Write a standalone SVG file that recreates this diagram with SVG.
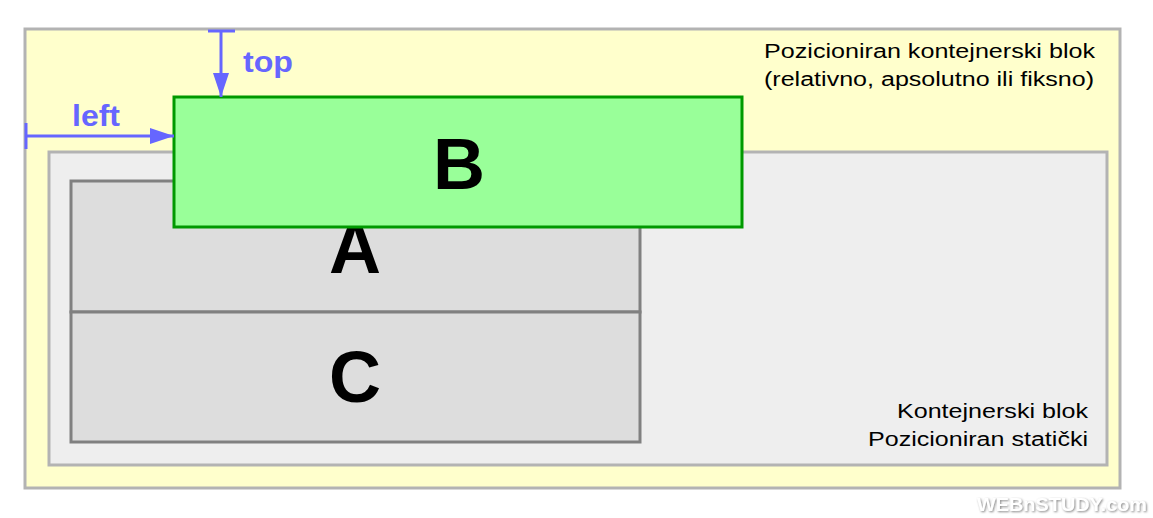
<svg xmlns="http://www.w3.org/2000/svg" width="1153" height="518" viewBox="0 0 1153 518">
<defs>
<style>
.lbl{font-family:"Liberation Sans",Arial,sans-serif;font-size:20px;fill:#000}
.big{font-family:"Liberation Sans",Arial,sans-serif;font-size:72px;font-weight:bold;fill:#000;text-anchor:middle}
.dim{font-family:"Liberation Sans",Arial,sans-serif;font-size:29px;font-weight:bold;fill:#6666ff}
.arr{stroke:#6666ff;stroke-width:3;fill:none}
</style>
<marker id="ah" viewBox="0 0 24 16" refX="24" refY="8" markerWidth="24" markerHeight="16" markerUnits="userSpaceOnUse" orient="auto">
<path d="M0,0 L24,8 L0,16 Z" fill="#6666ff"/>
</marker>
<filter id="sh" x="-5%" y="-30%" width="110%" height="160%">
<feDropShadow dx="1" dy="1" stdDeviation="1.2" flood-color="#888888" flood-opacity="1"/>
</filter>
</defs>
<rect width="1153" height="518" fill="#ffffff"/>
<g id="positioned-container">
<rect x="25" y="29" width="1095" height="459" fill="#ffffcc" stroke="#b3b3b3" stroke-width="3"/>
<text class="lbl" x="764" y="58" textLength="331" lengthAdjust="spacingAndGlyphs">Pozicioniran kontejnerski blok</text>
<text class="lbl" x="764" y="86" textLength="330" lengthAdjust="spacingAndGlyphs">(relativno, apsolutno ili fiksno)</text>
</g>
<g id="static-container">
<rect x="49" y="152" width="1058" height="313" fill="#eeeeee" stroke="#b3b3b3" stroke-width="3"/>
<text class="lbl" x="897" y="418" textLength="191" lengthAdjust="spacingAndGlyphs">Kontejnerski blok</text>
<text class="lbl" x="868" y="446" textLength="220" lengthAdjust="spacingAndGlyphs">Pozicioniran statički</text>
</g>
<g id="A">
<rect x="71" y="181" width="569" height="131" fill="#dddddd" stroke="#808080" stroke-width="3"/>
<text class="big" x="355" y="273">A</text>
</g>
<g id="C">
<rect x="71" y="312" width="569" height="130" fill="#dddddd" stroke="#808080" stroke-width="3"/>
<text class="big" x="355" y="402">C</text>
</g>
<g id="B">
<rect x="174" y="97" width="568" height="130" fill="#99ff99" stroke="#009900" stroke-width="3"/>
<text class="big" x="459" y="189">B</text>
</g>
<g id="connectors">
<line class="arr" x1="208" y1="31" x2="235" y2="31"/>
<line class="arr" x1="221" y1="31" x2="221" y2="97" marker-end="url(#ah)"/>
<line class="arr" x1="26" y1="123" x2="26" y2="149"/>
<line class="arr" x1="26" y1="136" x2="174" y2="136" marker-end="url(#ah)"/>
<text class="dim" x="243" y="72" textLength="50" lengthAdjust="spacingAndGlyphs">top</text>
<text class="dim" x="72" y="126" textLength="48" lengthAdjust="spacingAndGlyphs">left</text>
</g>
<g id="watermark">
<text x="977" y="511" font-family="Liberation Sans,Arial,sans-serif" font-size="18" font-weight="bold" fill="#ffffff" filter="url(#sh)" textLength="170" lengthAdjust="spacingAndGlyphs">WEBnSTUDY.com</text>
</g>
</svg>
